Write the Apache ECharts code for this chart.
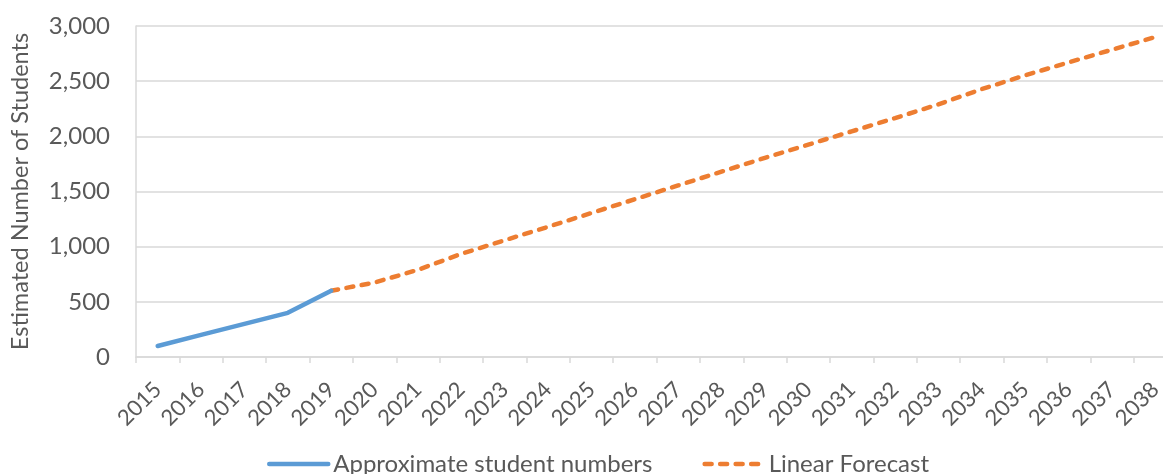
<!DOCTYPE html>
<html>
<head>
<meta charset="utf-8">
<script src="https://cdn.jsdelivr.net/npm/echarts@6/dist/echarts.min.js"></script>
<style>
  html, body { margin: 0; padding: 0; background: #fff; overflow: hidden; }
  /* the plot runs a little past the right edge of the page */
  #chart { width: 1177px; height: 474px; }
</style>
</head>
<body>
<div id="chart"></div>
<script>
// Years on the category axis
const years = ['2015','2016','2017','2018','2019','2020','2021','2022','2023','2024','2025','2026',
               '2027','2028','2029','2030','2031','2032','2033','2034','2035','2036','2037','2038'];

// Observed enrolment, 2015-2019
const studentNumbers = [100, 200, 300, 400, 600, null, null, null, null, null, null, null,
                        null, null, null, null, null, null, null, null, null, null, null, null];

// Linear projection from 2019 onwards
const linearForecast = [null, null, null, null, 600, 675, 790, 935, 1058, 1180, 1305, 1430,
                        1555, 1680, 1805, 1925, 2045, 2165, 2290, 2428, 2553, 2670, 2785, 2900];

// Value axis settings
const yMin = 0, yMax = 3000, yStep = 500;

const FONT = 'Lato';
const TEXT = '#595959';
const GRID = '#d9d9d9';

const chart = echarts.init(document.getElementById('chart'), null, { renderer: 'canvas' });
chart.setOption({
  animation: false,
  textStyle: { fontFamily: FONT, color: TEXT },
  grid: { left: 134, top: 26, right: 0, bottom: 117, containLabel: false },
  legend: {
    top: 452,
    left: 267,
    padding: 0,
    itemWidth: 59,
    itemHeight: 14,
    itemGap: 50,
    itemStyle: { opacity: 0 },
    lineStyle: { width: 4.5 },
    textStyle: { fontFamily: FONT, fontSize: 24, color: TEXT },
    data: ['Approximate student numbers', 'Linear Forecast']
  },
  xAxis: {
    type: 'category',
    data: years,
    boundaryGap: true,
    axisLine: { lineStyle: { color: GRID, width: 1.5 } },
    axisTick: { show: true, length: 6, lineStyle: { color: GRID, width: 1.5 } },
    axisLabel: {
      interval: 0,
      rotate: 45,
      margin: 29,
      fontFamily: FONT,
      fontSize: 22,
      color: TEXT
    },
    splitLine: { show: false }
  },
  yAxis: {
    type: 'value',
    min: yMin,
    max: yMax,
    interval: yStep,
    name: 'Estimated Number of Students',
    nameLocation: 'middle',
    nameGap: 104,
    nameRotate: 90,
    nameTextStyle: { fontFamily: FONT, fontSize: 23.5, color: TEXT },
    axisLine: { show: true, lineStyle: { color: GRID, width: 1.5 } },
    axisTick: { show: false },
    axisLabel: {
      margin: 26,
      fontFamily: FONT,
      fontSize: 24,
      color: TEXT,
      formatter: v => v.toLocaleString('en-US')
    },
    splitLine: { lineStyle: { color: GRID, width: 1.5 } }
  },
  series: [
    {
      name: 'Approximate student numbers',
      type: 'line',
      data: studentNumbers,
      symbol: 'none',
      color: '#5b9bd5',
      lineStyle: { color: '#5b9bd5', width: 4.5, cap: 'round', join: 'round' },
      z: 3
    },
    {
      name: 'Linear Forecast',
      type: 'line',
      data: linearForecast,
      symbol: 'none',
      color: '#ed7d31',
      lineStyle: { color: '#ed7d31', width: 4.5, type: [7, 8.5], cap: 'round' },
      z: 2
    }
  ]
});
</script>
</body>
</html>
